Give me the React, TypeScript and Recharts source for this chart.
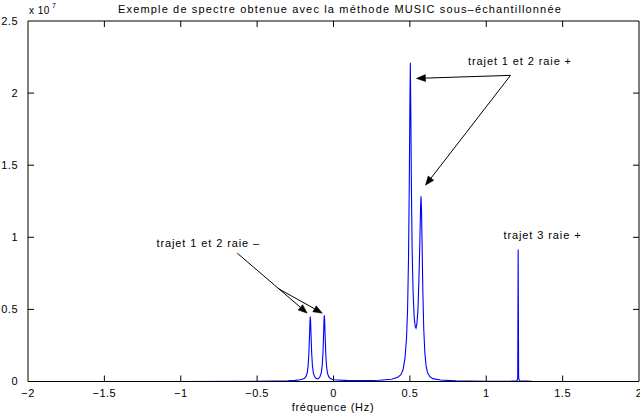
import React from "react";
import {
  LineChart,
  Line,
  XAxis,
  YAxis,
  ReferenceLine,
  ReferenceDot,
} from "recharts";

// frequency (Hz)
const freqHz: number[] = [
  -2.0, -1.0, -0.5, -0.3, -0.25, -0.22, -0.2, -0.19, -0.18, -0.172, -0.166, -0.161,
  -0.157, -0.154, -0.152, -0.15, -0.147, -0.143, -0.138, -0.132, -0.124, -0.115,
  -0.106, -0.097, -0.088, -0.08, -0.074, -0.069, -0.065, -0.062, -0.06, -0.058,
  -0.055, -0.051, -0.046, -0.04, -0.032, -0.022, -0.01, 0.0, 0.1, 0.2, 0.3, 0.38,
  0.42, 0.44, 0.455, 0.468, 0.478, 0.485, 0.491, 0.496, 0.5, 0.503, 0.506, 0.51,
  0.515, 0.521, 0.528, 0.535, 0.54, 0.546, 0.553, 0.559, 0.565, 0.57, 0.573, 0.576,
  0.58, 0.585, 0.591, 0.598, 0.606, 0.616, 0.63, 0.65, 0.7, 0.8, 1.0, 1.15, 1.2,
  1.206, 1.209, 1.212, 1.22, 1.3, 2.0,
];

// pseudo-spectrum, in units of 1e7
const spectrumE7: number[] = [
  0, 0.0005, 0.002, 0.005, 0.008, 0.012, 0.017, 0.022, 0.035, 0.06, 0.11, 0.2,
  0.32, 0.42, 0.45, 0.42, 0.32, 0.2, 0.11, 0.06, 0.035, 0.022,
  0.018, 0.022, 0.035, 0.06, 0.11, 0.2, 0.32, 0.43, 0.46, 0.43,
  0.32, 0.2, 0.11, 0.06, 0.035, 0.022, 0.015, 0.012, 0.006, 0.006, 0.009, 0.016,
  0.03, 0.045, 0.08, 0.16, 0.3, 0.5, 0.85, 1.35, 1.9, 2.21, 1.9, 1.35,
  0.9, 0.62, 0.45, 0.38, 0.37, 0.4, 0.5, 0.7, 0.95, 1.2, 1.285, 1.2,
  0.95, 0.62, 0.36, 0.2, 0.11, 0.06, 0.035, 0.02, 0.01, 0.004, 0.002, 0.002, 0.004,
  0.02, 0.915, 0.02, 0.004, 0.001, 0,
];

const xTicks: number[] = [-2, -1.5, -1, -0.5, 0, 0.5, 1, 1.5, 2];
const yTicks: number[] = [0, 0.5, 1, 1.5, 2, 2.5];
const xDomain: [number, number] = [-2, 2];
const yDomain: [number, number] = [0, 2.5];

const titleText = "Exemple de spectre obtenue avec la méthode MUSIC sous–échantillonnée";
const xLabelText = "fréquence (Hz)";

// annotations (data coordinates)
const arrowFrom: { x: number; y: number }[] = [
  { x: -0.63, y: 0.89 },
  { x: -0.362, y: 0.645 },
  { x: 1.159, y: 2.123 },
  { x: 1.159, y: 2.123 },
];
const arrowTo: { x: number; y: number }[] = [
  { x: -0.172, y: 0.474 },
  { x: -0.073, y: 0.474 },
  { x: 0.543, y: 2.102 },
  { x: 0.602, y: 1.361 },
];
const noteText: string[] = ["trajet 1 et 2 raie –", "trajet 1 et 2 raie +", "trajet 3 raie +"];
const noteX: number[] = [-0.82, 1.221, 1.368];
const noteY: number[] = [0.959, 2.22, 1.015];

const data = freqHz.map((f, i) => ({ f, s: spectrumE7[i] }));

const FONT = "'Liberation Sans', Arial, Helvetica, sans-serif";
const TICK_PX = 6;

const fmt = (v: number) => {
  const s = String(v);
  return s.startsWith("-") ? "−" + s.slice(1) : s;
};

const ArrowShape = (props: any) => {
  const { x1, y1, x2, y2 } = props;
  if ([x1, y1, x2, y2].some((v) => typeof v !== "number" || isNaN(v))) return null;
  const dx = x2 - x1;
  const dy = y2 - y1;
  const len = Math.sqrt(dx * dx + dy * dy) || 1;
  const ux = dx / len;
  const uy = dy / len;
  const hl = 9;
  const hw = 3.5;
  const bx = x2 - ux * hl;
  const by = y2 - uy * hl;
  const p = `${x2},${y2} ${bx - uy * hw},${by + ux * hw} ${bx + uy * hw},${by - ux * hw}`;
  return (
    <g>
      <line x1={x1} y1={y1} x2={bx} y2={by} stroke="#000" strokeWidth={1} />
      <polygon points={p} fill="#000" stroke="#000" strokeWidth={0.5} />
    </g>
  );
};

// inward tick marks drawn from a zero-length segment anchored on the axis value
const makeTick = (dir: "up" | "down" | "left" | "right") => (props: any) => {
  const { x1, y1 } = props;
  if (typeof x1 !== "number" || typeof y1 !== "number" || isNaN(x1) || isNaN(y1)) return null;
  let x2 = x1;
  let y2 = y1;
  if (dir === "up") y2 = y1 - TICK_PX;
  if (dir === "down") y2 = y1 + TICK_PX;
  if (dir === "left") x2 = x1 - TICK_PX;
  if (dir === "right") x2 = x1 + TICK_PX;
  return <line x1={x1} y1={y1} x2={x2} y2={y2} stroke="#000" strokeWidth={1} />;
};

const makeNote = (txt: string) => (props: any) => {
  const { cx, cy } = props;
  return (
    <text
      x={cx}
      y={cy}
      textAnchor="middle"
      dominantBaseline="central"
      fontFamily={FONT}
      fontSize={11}
      letterSpacing={0.9}
      fill="#000"
    >
      {txt}
    </text>
  );
};

export default function App() {
  const tickStyle = { fontSize: 11, fontFamily: FONT, fill: "#000", letterSpacing: 0.5 };
  const innerX = xTicks.slice(1, -1);
  const innerY = yTicks.slice(1, -1);
  return (
    <div style={{ position: "absolute", left: 0, top: 0, width: 640, height: 419, background: "#fff" }}>
      <LineChart
        width={640}
        height={419}
        data={data}
        margin={{ top: 21, right: 1, bottom: 0, left: 0 }}
      >
        <XAxis
          dataKey="f"
          type="number"
          domain={xDomain}
          ticks={xTicks}
          tickFormatter={fmt}
          orientation="bottom"
          height={37.5}
          stroke="#000"
          tickLine={false}
          tickMargin={2}
          tick={tickStyle}
          interval={0}
          allowDataOverflow
        />
        <YAxis
          type="number"
          domain={yDomain}
          ticks={yTicks}
          tickFormatter={fmt}
          orientation="left"
          width={28}
          stroke="#000"
          tickLine={false}
          tickMargin={4}
          tick={tickStyle}
          interval={0}
          allowDataOverflow
        />
        {/* frame: top and right borders */}
        <ReferenceLine y={yDomain[1]} stroke="#000" strokeWidth={1} ifOverflow="visible" />
        <ReferenceLine x={xDomain[1]} stroke="#000" strokeWidth={1} ifOverflow="visible" />
        {/* inward ticks */}
        {innerX.map((v) => (
          <ReferenceLine
            key={"tb" + v}
            segment={[{ x: v, y: yDomain[0] }, { x: v, y: yDomain[0] }]}
            ifOverflow="visible"
            shape={makeTick("up")}
          />
        ))}
        {innerX.map((v) => (
          <ReferenceLine
            key={"tt" + v}
            segment={[{ x: v, y: yDomain[1] }, { x: v, y: yDomain[1] }]}
            ifOverflow="visible"
            shape={makeTick("down")}
          />
        ))}
        {innerY.map((v) => (
          <ReferenceLine
            key={"tl" + v}
            segment={[{ x: xDomain[0], y: v }, { x: xDomain[0], y: v }]}
            ifOverflow="visible"
            shape={makeTick("right")}
          />
        ))}
        {innerY.map((v) => (
          <ReferenceLine
            key={"tr" + v}
            segment={[{ x: xDomain[1], y: v }, { x: xDomain[1], y: v }]}
            ifOverflow="visible"
            shape={makeTick("left")}
          />
        ))}
        <Line
          type="linear"
          dataKey="s"
          stroke="#0000ff"
          strokeWidth={1.1}
          dot={false}
          isAnimationActive={false}
        />
        {arrowFrom.map((a, i) => (
          <ReferenceLine
            key={"ar" + i}
            segment={[a, arrowTo[i]]}
            ifOverflow="visible"
            shape={ArrowShape}
          />
        ))}
        {noteText.map((t, i) => (
          <ReferenceDot
            key={"nt" + i}
            x={noteX[i]}
            y={noteY[i]}
            r={0}
            ifOverflow="visible"
            shape={makeNote(t)}
          />
        ))}
      </LineChart>
      <svg
        width={640}
        height={419}
        style={{ position: "absolute", left: 0, top: 0, pointerEvents: "none" }}
      >
        <text x={340} y={13} textAnchor="middle" fontFamily={FONT} fontSize={11} letterSpacing={1.15} fill="#000">
          {titleText}
        </text>
        <text x={29} y={14} fontFamily={FONT} fontSize={10} letterSpacing={0.5} fill="#000">
          x 10
        </text>
        <text x={52} y={8} fontFamily={FONT} fontSize={7} fill="#000">
          7
        </text>
        <text x={333} y={411} textAnchor="middle" fontFamily={FONT} fontSize={11} letterSpacing={0.7} fill="#000">
          {xLabelText}
        </text>
      </svg>
    </div>
  );
}
